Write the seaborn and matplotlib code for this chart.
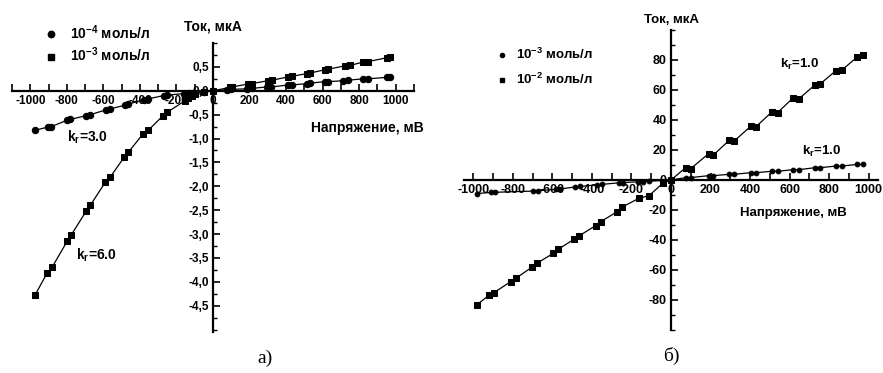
import numpy as np
import pandas as pd
import matplotlib
matplotlib.use('Agg')
import matplotlib.pyplot as plt
import seaborn as sns
from matplotlib.lines import Line2D
from matplotlib.ticker import MultipleLocator, FuncFormatter

# ---------------- data: panel a) ----------------
a_c_x = [-975, -905, -885, -800, -780, -695, -672, -585, -563, -480, -464, -380, -355,
         -270, -250, -160, -130, -50, 0, 75, 100, 185, 213, 295, 320, 410, 430, 513, 530,
         612, 628, 710, 738, 820, 847, 950, 967]
a_c_y = [-0.83, -0.76, -0.75, -0.62, -0.60, -0.52, -0.50, -0.40, -0.38, -0.30, -0.28, -0.19, -0.17,
         -0.10, -0.09, -0.06, -0.05, -0.02, 0.0, 0.02, 0.03, 0.04, 0.05, 0.08, 0.08, 0.12, 0.12, 0.15, 0.16,
         0.19, 0.19, 0.21, 0.22, 0.25, 0.25, 0.28, 0.28]
a_s_x = [-973, -907, -880, -798, -776, -694, -672, -590, -563, -486, -464, -382, -355,
         -273, -251, -153, -136, -115, -98, -50, 0, 93, 104, 191, 213, 300, 322, 410, 430,
         513, 530, 612, 628, 720, 750, 820, 847, 950, 967]
a_s_y = [-4.27, -3.81, -3.69, -3.15, -3.02, -2.52, -2.40, -1.92, -1.81, -1.39, -1.29, -0.90, -0.83,
         -0.52, -0.45, -0.21, -0.15, -0.10, -0.06, -0.02, 0.0, 0.07, 0.08, 0.14, 0.15, 0.21, 0.22, 0.29, 0.30,
         0.36, 0.37, 0.44, 0.45, 0.52, 0.53, 0.60, 0.61, 0.69, 0.70]

# ---------------- data: panel б) ----------------
b_c_x = [-980, -910, -890, -700, -675, -580, -560, -485, -460, -375, -350, -265, -245,
         -165, -140, -110, 0, 75, 100, 190, 215, 295, 320, 405, 430, 510, 540, 618, 648,
         728, 755, 835, 865, 943, 970]
b_c_y = [-9.0, -8.3, -8.2, -7.4, -7.2, -6.2, -6.0, -4.6, -4.3, -3.2, -2.9, -1.9, -1.7,
         -1.2, -1.1, -0.8, 0.0, 1.6, 1.6, 2.9, 2.9, 3.8, 3.8, 4.9, 4.9, 5.8, 5.8, 6.9, 6.9,
         8.2, 8.2, 9.3, 9.3, 10.4, 10.4]
b_s_x = [-984, -920, -896, -812, -786, -705, -680, -596, -571, -491, -464, -381, -356,
         -272, -250, -162, -111, -40, 0, 75, 100, 190, 215, 295, 320, 405, 430, 510, 540,
         618, 648, 728, 755, 835, 865, 943, 970]
b_s_y = [-83.3, -76.7, -75.1, -67.8, -65.6, -58.2, -55.6, -48.9, -46.2, -39.5, -37.1, -30.4, -27.8,
         -21.1, -18.2, -12.2, -10.4, -2.0, 0.0, 8.3, 7.6, 17.5, 16.7, 26.5, 26.0, 36.0, 35.5, 45.3, 45.0,
         54.7, 54.2, 63.3, 64.0, 72.9, 73.3, 82.0, 83.5]

a_legend = ['10$^{-4}$ моль/л', '10$^{-3}$ моль/л']
b_legend = ['10$^{-3}$ моль/л', '10$^{-2}$ моль/л']
y_title = 'Ток, мкА'
x_title = 'Напряжение, мВ'

# ---------------- style ----------------
sns.set_theme(style='white')
plt.rcParams['font.family'] = ['Liberation Sans', 'DejaVu Sans']
plt.rcParams['font.weight'] = 'bold'
plt.rcParams['mathtext.fontset'] = 'custom'
plt.rcParams['mathtext.bf'] = 'Liberation Sans:bold'
plt.rcParams['mathtext.rm'] = 'Liberation Sans:bold'
plt.rcParams['mathtext.it'] = 'Liberation Sans:bold'
plt.rcParams['mathtext.default'] = 'bf'
for k in ['text.color', 'axes.labelcolor', 'xtick.color', 'ytick.color', 'axes.edgecolor']:
    plt.rcParams[k] = 'black'

W, H = 883, 373
fig = plt.figure(figsize=(W / 100, H / 100), dpi=100)


def px_axes(x0, x1, y_top, y_bot):
    return fig.add_axes([x0 / W, 1 - y_bot / H, (x1 - x0) / W, (y_bot - y_top) / H])


axL = px_axes(12, 414, 43, 332)
axR = px_axes(463.6, 878.4, 30, 330)

narrow = ['Liberation Sans Narrow', 'Liberation Sans']


def style(ax, xlim, ylim, xmaj, xmin, ymaj, ymin, yfmt, fam, fs):
    ax.set_xlim(*xlim)
    ax.set_ylim(*ylim)
    ax.patch.set_visible(False)
    for s in ['top', 'right']:
        ax.spines[s].set_visible(False)
    for s in ['left', 'bottom']:
        ax.spines[s].set_position(('data', 0))
        ax.spines[s].set_linewidth(1.6)
        ax.spines[s].set_color('black')
    ax.xaxis.set_major_locator(MultipleLocator(xmaj))
    ax.xaxis.set_minor_locator(MultipleLocator(xmin))
    ax.yaxis.set_major_locator(MultipleLocator(ymaj))
    ax.yaxis.set_minor_locator(MultipleLocator(ymin))
    ax.xaxis.set_major_formatter(FuncFormatter(lambda v, p: '%d' % round(v)))
    ax.yaxis.set_major_formatter(FuncFormatter(yfmt))
    ax.tick_params(axis='x', which='both', direction='in', length=5, width=1.2,
                   bottom=True, top=False, pad=3, labelsize=fs)
    ax.tick_params(axis='y', which='major', direction='in', length=5, width=1.2,
                   left=True, right=False, pad=3, labelsize=fs)
    ax.tick_params(axis='y', which='minor', direction='in', length=3, width=1.0,
                   left=True, right=False)
    for lab in ax.get_xticklabels() + ax.get_yticklabels():
        lab.set_fontweight('bold')
        lab.set_family(fam)
    ax.set_xlabel('')
    ax.set_ylabel('')
    ax.grid(False)


def series(ax, x, y, marker, ms):
    df = pd.DataFrame({'x': x, 'y': y})
    sns.lineplot(data=df, x='x', y='y', ax=ax, color='black', lw=0.9, marker=marker,
                 markersize=ms, markeredgecolor='black', markerfacecolor='black',
                 estimator=None, sort=False, legend=False)


# panel a
series(axL, a_c_x, a_c_y, 'o', 4.6)
series(axL, a_s_x, a_s_y, 's', 4.4)
style(axL, (-1100, 1100), (-5.05, 1.0), 200, 100, 0.5, 0.25,
      lambda v, p: ('%.1f' % v).replace('.', ','), ['Liberation Sans'], 8.5)
axL.set_yticks([t for t in np.arange(-4.5, 0.51, 0.5)])

# panel b
series(axR, b_c_x, b_c_y, 'o', 3.4)
series(axR, b_s_x, b_s_y, 's', 3.8)
style(axR, (-1050, 1050), (-100, 100), 200, 100, 20, 10,
      lambda v, p: '%d' % round(v), narrow, 9)
axR.set_yticks(list(range(-80, 81, 20)))

# titles
axL.text(0, 1.35, y_title, ha='center', va='center', fontsize=10, weight='bold', clip_on=False)
axL.text(847, -0.77, x_title, ha='center', va='center', fontsize=10, weight='bold')
axR.text(0, 106.7, y_title, ha='center', va='center', fontsize=9.5, weight='bold',
         family=narrow, clip_on=False)
axR.text(618, -22, x_title, ha='center', va='center', fontsize=9.5, weight='bold', family=narrow)

# k_r labels
axL.text(-689, -0.98, 'k$_r$=3.0', ha='center', va='center', fontsize=10, weight='bold')
axL.text(-639, -3.44, 'k$_r$=6.0', ha='center', va='center', fontsize=10, weight='bold')
axR.text(653, 76.7, 'k$_r$=1.0', ha='center', va='center', fontsize=9.5, weight='bold', family=narrow)
axR.text(760, 18.7, 'k$_r$=1.0', ha='center', va='center', fontsize=9.5, weight='bold', family=narrow)

# legends
hL = [Line2D([], [], ls='none', marker='o', ms=4.6, color='black'),
      Line2D([], [], ls='none', marker='s', ms=4.4, color='black')]
axL.legend(hL, a_legend, loc='upper left', bbox_to_anchor=(44 / W, 1 - 23 / H),
           bbox_transform=fig.transFigure, frameon=False, handlelength=1.0,
           handletextpad=0.9, labelspacing=0.3, borderpad=0, borderaxespad=0,
           prop={'weight': 'bold', 'size': 10})
hR = [Line2D([], [], ls='none', marker='o', ms=3.0, color='black'),
      Line2D([], [], ls='none', marker='s', ms=3.0, color='black')]
axR.legend(hR, b_legend, loc='upper left', bbox_to_anchor=(495 / W, 1 - 47 / H),
           bbox_transform=fig.transFigure, frameon=False, handlelength=1.0,
           handletextpad=0.6, labelspacing=0.75, borderpad=0, borderaxespad=0,
           prop={'weight': 'bold', 'size': 9.5, 'family': narrow})

# captions
fig.text(265 / W, 1 - 358 / H, 'а)', family='Liberation Serif', fontsize=14,
         weight='normal', ha='center', va='center')
fig.text(671 / W, 1 - 356 / H, 'б)', family='Liberation Serif', fontsize=14,
         weight='normal', ha='center', va='center')

fig.savefig('out.png', dpi=100, facecolor='white')
